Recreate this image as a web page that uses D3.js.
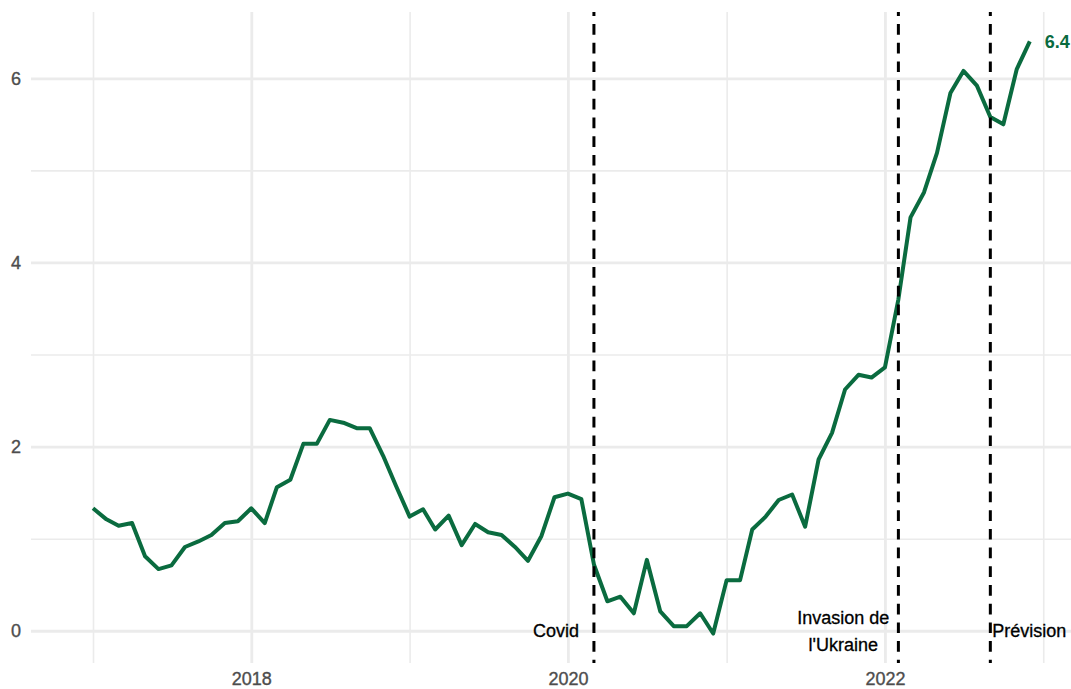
<!DOCTYPE html>
<html>
<head>
<meta charset="utf-8">
<script src="https://cdn.jsdelivr.net/npm/d3@7"></script>
<style>
	body { margin: 0; background: #fff; }
	svg { display: block; font-family: "Liberation Sans", Arial, sans-serif; }
	.axis text { fill: #4d4d4d; font-size: 18px; stroke: #4d4d4d; stroke-width: 0.35px; }
	.axis .domain { display: none; }
	.grid .domain { display: none; }
	.grid text { display: none; }
	.event-label { stroke: #000; stroke-width: 0.3px; }
</style>
</head>
<body>
<div id="chart"></div>
<script>
// monthly values, Jan 2017 -> Dec 2022
const months = d3.utcMonths(new Date(Date.UTC(2017, 0, 1)), new Date(Date.UTC(2023, 0, 1)));
const values = [
	1.33, 1.21, 1.14, 1.17, 0.81, 0.67, 0.71, 0.91, 0.97, 1.04, 1.17, 1.19,
	1.33, 1.17, 1.56, 1.64, 2.03, 2.03, 2.29, 2.26, 2.20, 2.20, 1.90, 1.57,
	1.24, 1.32, 1.10, 1.25, 0.93, 1.16, 1.07, 1.04, 0.91, 0.76, 1.03, 1.45,
	1.49, 1.43, 0.72, 0.32, 0.37, 0.19, 0.77, 0.21, 0.05, 0.05, 0.19, -0.03,
	0.55, 0.55, 1.10, 1.24, 1.42, 1.48, 1.13, 1.86, 2.15, 2.62, 2.78, 2.75,
	2.86, 3.60, 4.49, 4.76, 5.19, 5.84, 6.08, 5.92, 5.58, 5.50, 6.10, 6.40
];

// events drawn as dashed vertical lines
const event_dates = ["2020-03-01", "2022-02-01", "2022-09-01"];
const event_labels = [["Covid"], ["Invasion de", "l'Ukraine"], ["Prévision"]];
const event_side = ["left", "left", "right"];

const x_major = [2018, 2020, 2022];
const x_minor = [2017, 2019, 2021, 2023];
const y_major = [0, 2, 4, 6];
const y_minor = [1, 3, 5];

const data = months.map((m, i) => ({date: m, value: values[i]}));

// panel
var width = 1071, height = 689;
var panel = {left: 31, right: 1071, top: 12, bottom: 663};

var x = d3.scaleUtc()
	.domain([new Date(Date.UTC(2017, 0, 1)), new Date(Date.UTC(2022, 11, 1))])
	.range([93, 1029.8]);

var y = d3.scaleLinear()
	.domain([-0.35, 6.72])
	.range([panel.bottom, panel.top]);

var yr = d => new Date(Date.UTC(d, 0, 1));

var svg = d3.select("#chart")
	.append("svg")
	.attr("width", width)
	.attr("height", height);

// gridlines
function grid_x(ticks, w) {
	svg.append("g")
		.attr("class", "grid")
		.attr("transform", "translate(0," + panel.bottom + ")")
		.call(d3.axisBottom(x).tickValues(ticks.map(yr)).tickSize(-(panel.bottom - panel.top)))
		.selectAll("line")
			.attr("stroke", "#ebebeb")
			.attr("stroke-width", w);
}
function grid_y(ticks, w) {
	svg.append("g")
		.attr("class", "grid")
		.attr("transform", "translate(" + panel.left + ",0)")
		.call(d3.axisLeft(y).tickValues(ticks).tickSize(-(panel.right - panel.left)))
		.selectAll("line")
			.attr("stroke", "#ebebeb")
			.attr("stroke-width", w);
}
grid_x(x_minor, 1.6);
grid_y(y_minor, 1.6);
grid_x(x_major, 2.8);
grid_y(y_major, 2.8);

// axes labels
svg.append("g")
	.attr("class", "axis")
	.attr("transform", "translate(0," + panel.bottom + ")")
	.call(d3.axisBottom(x).tickValues(x_major.map(yr)).tickFormat(d3.utcFormat("%Y")).tickSize(0).tickPadding(9));

svg.append("g")
	.attr("class", "axis")
	.attr("transform", "translate(" + panel.left + ",0)")
	.call(d3.axisLeft(y).tickValues(y_major).tickFormat(d3.format("d")).tickSize(0).tickPadding(10));

// the series
var line = d3.line()
	.x(d => x(d.date))
	.y(d => y(d.value));

svg.append("path")
	.datum(data)
	.attr("fill", "none")
	.attr("stroke", "#0a6b3f")
	.attr("stroke-width", 4)
	.attr("stroke-linejoin", "round")
	.attr("d", line);

// last value label (kept inside the frame)
var last = data[data.length - 1];
svg.append("text")
	.attr("x", x(last.date) + 15)
	.attr("y", y(last.value))
	.attr("dy", "0.35em")
	.attr("fill", "#0a6b3f")
	.attr("font-weight", "bold")
	.attr("font-size", 18)
	.text(d3.format(".1f")(last.value));

// events
event_dates.forEach((d, i) => {
	var xe = x(d3.utcParse("%Y-%m-%d")(d));
	svg.append("line")
		.attr("x1", xe).attr("x2", xe)
		.attr("y1", panel.top).attr("y2", panel.bottom)
		.attr("stroke", "#000")
		.attr("stroke-width", 3)
		.attr("stroke-dasharray", "10.7,8")
		.attr("stroke-dashoffset", 6.7);

	var lines = event_labels[i];
	var left = event_side[i] == "left";
	var t = svg.append("text")
		.attr("class", "event-label")
		.attr("font-size", 18)
		.attr("fill", "#000")
		.attr("text-anchor", left ? "middle" : "start");
	var tx = left ? 0 : xe + 2;
	lines.forEach((s, j) => {
		t.append("tspan")
			.attr("x", tx)
			.attr("y", y(0) + (j - (lines.length - 1) / 2) * 27)
			.attr("dy", "0.35em")
			.text(s);
	});
	if (left) {
		// right-align the whole block next to the line
		var bw = t.node().getBBox().width;
		var gap = lines.length > 1 ? 9 : 15;
		t.selectAll("tspan").attr("x", xe - gap - bw / 2);
	}
});
</script>
</body>
</html>
